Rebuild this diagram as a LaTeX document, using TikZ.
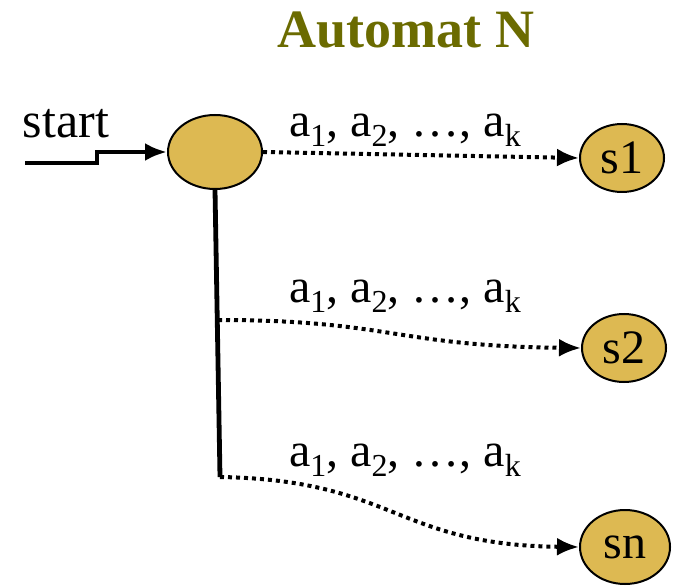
\documentclass[tikz,border=0pt]{standalone}
\usepackage{fontspec}
\setmainfont{Liberation Serif}
\usetikzlibrary{shapes.geometric,arrows.meta}
\definecolor{stategold}{RGB}{221,185,82}
\definecolor{titleolive}{RGB}{107,107,0}
\newcommand{\sub}[1]{\raisebox{-0.45ex}{\fontsize{16}{18}\selectfont #1}}
\tikzset{
  state/.style={ellipse, draw, line width=1pt, fill=stategold, inner sep=0pt,
    minimum width=42pt, minimum height=34pt, font=\fontsize{24}{26}\selectfont},
  trans/.style={line width=2pt, dash pattern=on 2pt off 2pt, -{Latex[length=11pt,width=9pt]}},
  lab/.style={font=\fontsize{24}{26}\selectfont}
}
\begin{document}
\begin{tikzpicture}[x=0.5pt,y=-0.5pt]
        \useasboundingbox (0,0) rectangle (673,587);
        \node[font=\fontsize{27}{30}\selectfont\bfseries, text=titleolive] (title) at (406,30) {Automat N};
        \node[state, minimum width=47pt, minimum height=37pt] (q0) at (215,152) {};
        \node[state] (s1) at (622,158) {s1};
        \node[state] (s2) at (624,348) {s2};
        \node[state, minimum width=45pt, minimum height=37pt] (sn) at (625,547) {sn};
        \node[lab, font=\fontsize{25}{28}\selectfont] (st) at (66,124) {start};
        \coordinate (in) at (25,163);
        \coordinate (j2) at (218,320);
        \coordinate (j3) at (220,477);
        % start arrow
        \draw[line width=2.4pt, -{Latex[length=11pt,width=9pt]}] (in) -- (97,163) -- (97,152) -- (q0.west);
        \draw[line width=2.4pt] (q0.south) -- (j3);
        \draw[trans] (q0.east) -- (s1.west);
        \draw[trans] (j2) .. controls (390,320) and (395,346) .. (s2.west);
        \draw[trans] (j3) .. controls (395,480) and (395,545) .. (sn.west);
        \foreach \y/\n in {130/l1,296/l2,460/l3}
          \node[lab] (\n) at (405,\y) {a\sub{1}, a\sub{2}, \dots, a\sub{k}};
\end{tikzpicture}
\end{document}
